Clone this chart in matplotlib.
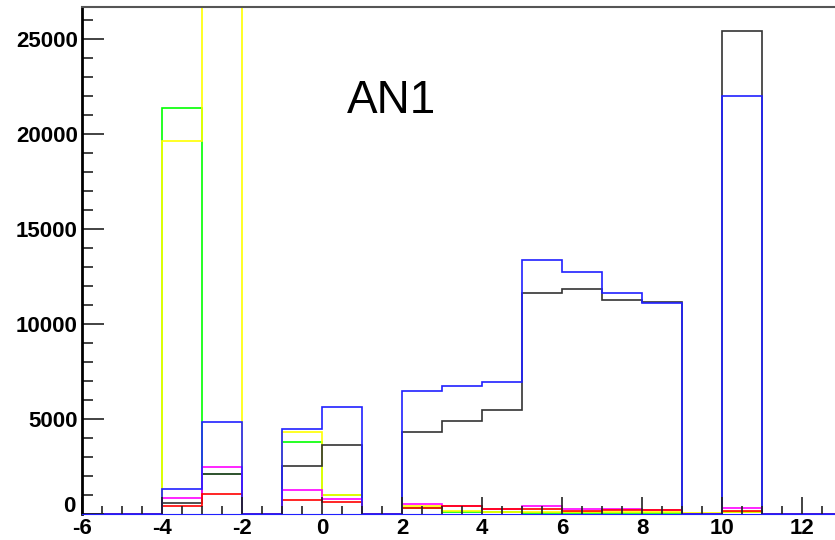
import numpy as np
import matplotlib.pyplot as plt
from matplotlib.ticker import MultipleLocator, FuncFormatter

plt.rcParams['font.family'] = ['Liberation Sans', 'DejaVu Sans']
plt.rcParams['axes.unicode_minus'] = False

# bin edges -6 .. 13, width 1
edges = np.arange(-6, 14, 1)

# bin contents (bins -6..12)
black   = [0, 0, 530, 2090, 0, 2510, 3600, 0, 4300, 4860, 5440, 11600, 11860, 11280, 11140, 0, 25450, 0, 0]
blue    = [0, 0, 1300, 4800, 0, 4440, 5600, 0, 6440, 6740, 6930, 13350, 12720, 11610, 11100, 0, 22000, 0, 0]
green   = [0, 0, 21400, 2090, 0, 3790, 1000, 0, 300, 100, 60, 40, 30, 30, 20, 0, 80, 0, 0]
yellow  = [0, 0, 19630, 60000, 0, 4300, 1000, 0, 380, 120, 90, 80, 70, 60, 60, 50, 90, 0, 0]
magenta = [0, 0, 806, 2440, 0, 1230, 790, 0, 526, 370, 245, 390, 245, 245, 190, 0, 270, 0, 0]
red     = [0, 0, 385, 1020, 0, 737, 600, 0, 300, 380, 240, 240, 150, 210, 200, 0, 110, 0, 0]

fig = plt.figure(figsize=(8.35, 5.40), dpi=100)
ax = fig.add_axes([82 / 835, 26.5 / 540, 760 / 835, 506.5 / 540])

lw = 1.2
ax.stairs(green, edges, color='#00ff00', lw=lw)
ax.stairs(yellow, edges, color='#ffff00', lw=lw)
ax.stairs(black, edges, color='#333333', lw=lw)
ax.stairs(magenta, edges, color='#ff00ff', lw=lw)
ax.stairs(red, edges, color='#ff0000', lw=lw)
ax.stairs(blue, edges, color='#2020ff', lw=lw)

ax.set_xlim(-6, 13)
ax.set_ylim(0, 26700)

ax.xaxis.set_major_locator(MultipleLocator(2))
ax.xaxis.set_minor_locator(MultipleLocator(0.5))
ax.yaxis.set_major_locator(MultipleLocator(5000))
ax.yaxis.set_minor_locator(MultipleLocator(1000))
# the "0" of the y axis is placed by hand, a bit above the "-6"
ax.yaxis.set_major_formatter(FuncFormatter(lambda v, p: '' if v == 0 else '%d' % v))

ax.tick_params(which='both', direction='in', top=False, right=False, color='#222222')
ax.tick_params(axis='x', which='major', length=12, width=1.2, pad=3, labelsize=16)
ax.tick_params(axis='x', which='minor', length=6, width=1.2)
ax.tick_params(axis='y', which='major', length=16, width=1.2, pad=3, labelsize=16)
ax.tick_params(axis='y', which='minor', length=8, width=1.2)
for lab in ax.get_xticklabels() + ax.get_yticklabels():
    lab.set_fontweight('bold')

ax.text(-0.008, -0.006, '0', transform=ax.transAxes, ha='right', va='bottom',
        fontsize=16, fontweight='bold')

ax.spines['left'].set_linewidth(2)
ax.spines['left'].set_color('black')
ax.spines['top'].set_color('#555555')
ax.spines['top'].set_linewidth(1.5)
ax.spines['bottom'].set_color('#2020ff')
ax.spines['right'].set_visible(False)

fig.text(392 / 835, 1 - 101 / 540, 'AN1', fontsize=33, ha='center', va='center')

fig.savefig('out.png', dpi=100)
